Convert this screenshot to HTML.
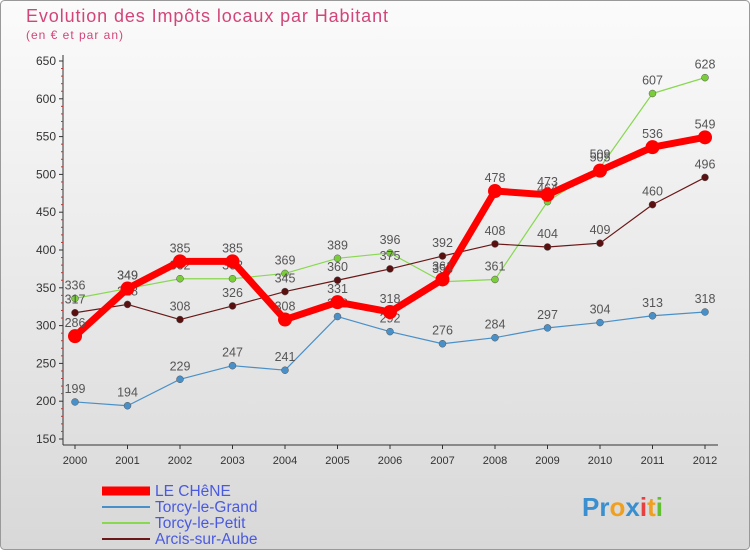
<!DOCTYPE html>
<html><head><meta charset="utf-8"><style>
body{margin:0;background:#fff}
svg text{font-family:"Liberation Sans",sans-serif}
</style></head><body>
<svg width="750" height="550" xmlns="http://www.w3.org/2000/svg">
<defs><linearGradient id="bg" x1="0" y1="0" x2="0" y2="1"><stop offset="0" stop-color="#fbfbfb"/><stop offset="1" stop-color="#d8d8d8"/></linearGradient></defs>
<rect x="0.5" y="0.5" width="749" height="549" rx="4" fill="url(#bg)" stroke="#999"/>
<text x="26" y="22" font-size="18" textLength="362" fill="#d2457a">Evolution des Impôts locaux par Habitant</text>
<text x="26" y="39" font-size="12" textLength="97" fill="#d2457a">(en € et par an)</text>
<g id="axes"></g><g id="series"></g><g id="legend"></g>
<g font-size="26" font-weight="bold">
<text x="582" y="516"><tspan fill="#3a8fd0">Pr</tspan><tspan fill="#f0a020">o</tspan><tspan fill="#3a8fd0">x</tspan><tspan fill="#e84040">i</tspan><tspan fill="#f0a020">t</tspan><tspan fill="#60c030">i</tspan></text>
</g>
</svg>
<script>
const years=[2000,2001,2002,2003,2004,2005,2006,2007,2008,2009,2010,2011,2012];
const yTicks=[150,200,250,300,350,400,450,500,550,600,650];
const chene=[286,349,385,385,308,331,318,361,478,473,505,536,549];
const grand=[199,194,229,247,241,312,292,276,284,297,304,313,318];
const petit=[336,349,362,362,369,389,396,358,361,464,509,607,628];
const arcis=[317,328,308,326,345,360,375,392,408,404,409,460,496];
const names=["LE CHêNE","Torcy-le-Grand","Torcy-le-Petit","Arcis-sur-Aube"];
const NS="http://www.w3.org/2000/svg";
const xs=i=>75+i*52.5;
const ys=v=>439-(v-150)*(378/500);
function mk(t,a,p){const e=document.createElementNS(NS,t);for(const k in a)e.setAttribute(k,a[k]);p.appendChild(e);return e;}
const ax=document.getElementById('axes');
const yl=mk('line',{x1:63,y1:55,x2:63,y2:445,stroke:'#333'},ax);


const xl=mk('line',{x1:63,y1:445,x2:718,y2:445,stroke:'#333'},ax);


yTicks.forEach(v=>{mk('line',{x1:59,x2:63,y1:ys(v),y2:ys(v),stroke:'#333'},ax);
 if(v<650){for(let k=1;k<5;k++)mk('line',{x1:61,x2:63,y1:ys(v+k*10),y2:ys(v+k*10),stroke:'#c33'},ax);}
 const t=mk('text',{x:56,y:ys(v)+4,'font-size':12,'text-anchor':'end',fill:'#333'},ax);t.textContent=v;
 
 });
years.forEach((y,i)=>{mk('line',{x1:xs(i),x2:xs(i),y1:445,y2:449,stroke:'#333'},ax);
 const t=mk('text',{x:xs(i),y:464,'font-size':11,'text-anchor':'middle',fill:'#333'},ax);t.textContent=y;
 
 });
const sg=document.getElementById('series');
function series(vals,color,w,r,name,dot){
 const g=mk('g',{},sg);
 
 
 mk('polyline',{points:vals.map((v,i)=>xs(i)+','+ys(v)).join(' '),fill:'none',stroke:color,'stroke-width':w,'stroke-linejoin':'round'},g);
 vals.forEach((v,i)=>{const c=mk('circle',{cx:xs(i),cy:ys(v),r:r,fill:dot,stroke:r>5?'none':'#555','stroke-width':0.5},g);
  
  
  const t=mk('text',{x:xs(i),y:ys(v)-9,'font-size':12.5,'text-anchor':'middle',fill:'#555'},g);t.textContent=v;});
}
series(grand,'#4a90c8',1.2,3.5,'series-torcy-le-grand','#4a90c8');
series(petit,'#88d850',1.2,3.5,'series-torcy-le-petit','#7acc3a');
series(arcis,'#6a1818',1.2,3.5,'series-arcis-sur-aube','#5a1010');
series(chene,'#ff0000',7,7,'series-le-chene','#ff0000');
const lg=document.getElementById('legend');
const cols=['#ff0000','#4a90c8','#88d850','#6a1818'],wd=[9,2,2,2];
names.forEach((n,i)=>{const g=mk('g',{},lg);
 
 
 const y=491+i*16;
 mk('line',{x1:102,x2:150,y1:y,y2:y,stroke:cols[i],'stroke-width':wd[i]},g);
 const t=mk('text',{x:155,y:y+5,'font-size':15.5,fill:'#4a5ae0'},g);t.textContent=n;});
</script>
</body></html>
